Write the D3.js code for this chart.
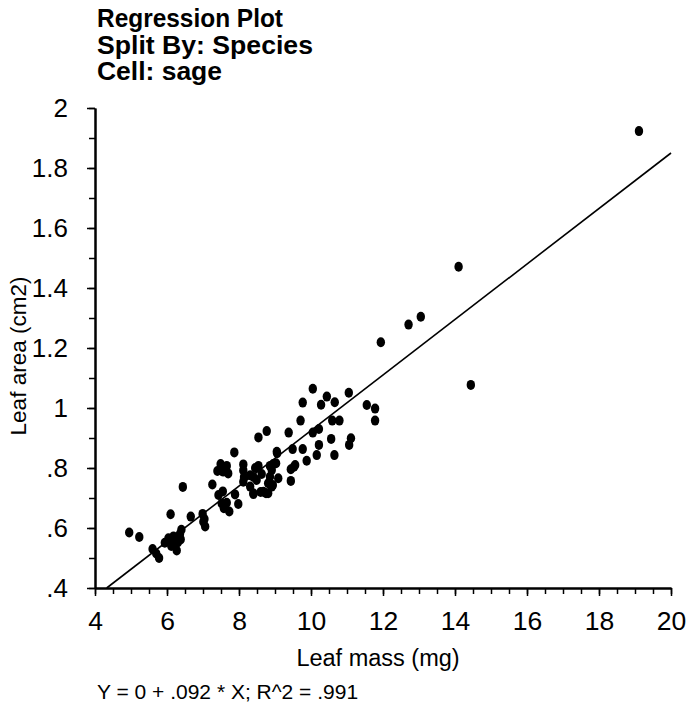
<!DOCTYPE html>
<html>
<head>
<meta charset="utf-8">
<script src="https://cdn.jsdelivr.net/npm/d3@7"></script>
<style>
html,body{margin:0;padding:0;background:#fff;}
svg{display:block;font-family:"Liberation Sans",Arial,Helvetica,sans-serif;}
</style>
</head>
<body>
<svg id="chart" width="689" height="707"></svg>
<script>
const titleLines = ["Regression Plot", "Split By: Species", "Cell: sage"];
const xLabel = "Leaf mass (mg)";
const yLabel = "Leaf area (cm2)";
const equation = "Y = 0 + .092 * X; R^2 = .991";
const xTicks = [4, 6, 8, 10, 12, 14, 16, 18, 20];
const yTicks = [0.4, 0.6, 0.8, 1.0, 1.2, 1.4, 1.6, 1.8, 2.0];
const yTickLabels = [".4", ".6", ".8", "1", "1.2", "1.4", "1.6", "1.8", "2"];
const regIntercept = 0;
const regSlope = 0.0925;

const leafMass = [4.95,5.23,5.60,5.70,5.78,5.94,6.04,6.10,6.12,6.18,6.20,6.27,6.30,6.36,6.40,6.38,6.44,6.66,6.99,7.01,7.06,7.04,
  7.26,7.40,7.49,7.66,7.56,7.70,7.55,7.43,7.52,7.73,7.58,7.66,7.89,7.98,7.87,8.12,8.12,8.14,8.12,8.31,8.31,8.40,8.40,8.45,
  8.54,8.77,8.63,8.60,8.75,8.81,8.86,8.86,8.91,8.91,8.95,9.03,9.06,9.09,8.94,9.38,9.44,9.44,9.49,9.53,9.56,9.71,9.77,9.77,
  9.88,10.05,10.05,10.16,10.22,10.22,10.28,10.44,10.56,10.59,10.65,10.66,10.79,11.05,11.06,11.11,11.55,11.78,11.78,11.94,
  12.71,13.05,14.10,14.44,19.11,8.54,8.49,8.68,8.81,8.40,9.05];
const leafArea = [0.585,0.570,0.530,0.515,0.500,0.551,0.566,0.646,0.540,0.572,0.556,0.525,0.552,0.580,0.594,0.562,0.737,0.638,0.647,0.621,0.605,0.630,
  0.745,0.790,0.813,0.807,0.788,0.782,0.722,0.710,0.682,0.655,0.666,0.684,0.712,0.680,0.852,0.812,0.792,0.770,0.754,0.776,0.738,0.713,0.770,0.800,
  0.902,0.923,0.780,0.720,0.716,0.749,0.771,0.807,0.738,0.793,0.813,0.816,0.849,0.766,0.743,0.918,0.757,0.796,0.863,0.804,0.810,0.958,1.018,0.863,
  0.824,1.064,0.918,0.843,0.930,0.877,1.011,1.038,0.897,0.958,0.843,1.019,0.958,1.051,0.877,0.899,1.010,0.998,0.958,1.219,
  1.278,1.304,1.471,1.077,1.923,0.807,0.760,0.721,0.716,0.716,0.854];

(function () {
const svg = d3.select("#chart");
const mLeft = 95, mRight = 671, mTop = 108, mBottom = 588;
const x = d3.scaleLinear().domain([4, 20]).range([mLeft, mRight]);
const y = d3.scaleLinear().domain([0.4, 2.0]).range([mBottom, mTop]);
const titleWidths = [186, 216, 125];

// title
svg.append("g").selectAll("text").data(titleLines).join("text")
  .attr("x", 97).attr("y", (d, i) => 27 + i * 26.5)
  .attr("font-size", 25).attr("font-weight", "bold").attr("fill", "#000")
  .attr("textLength", (d, i) => titleWidths[i]).attr("lengthAdjust", "spacingAndGlyphs")
  .text(d => d);

// axes
const xMinor = d3.range(4, 20.001, 0.5);
const yMinor = d3.range(0.4, 2.0001, 0.1);
const gx = svg.append("g").attr("transform", `translate(0,${mBottom})`);
gx.call(d3.axisBottom(x).tickValues(xMinor).tickSize(6).tickFormat("").tickSizeOuter(0));
gx.append("g").call(d3.axisBottom(x).tickValues(xTicks).tickSize(8).tickSizeOuter(0).tickPadding(10));
gx.selectAll("path").attr("stroke", "#000").attr("stroke-width", 2);
gx.selectAll("line").attr("stroke", "#000").attr("stroke-width", 1.5);
gx.selectAll("text").attr("font-size", 26.5).attr("fill", "#000").attr("dy", "0.92em").attr("font-family", "Liberation Sans, Arial, sans-serif");

const gy = svg.append("g").attr("transform", `translate(${mLeft},0)`);
gy.call(d3.axisLeft(y).tickValues(yMinor).tickSize(6).tickFormat("").tickSizeOuter(0));
gy.append("g").call(d3.axisLeft(y).tickValues(yTicks).tickSize(8).tickSizeOuter(0).tickPadding(19)
  .tickFormat((d, i) => yTickLabels[i]));
gy.selectAll("path").attr("stroke", "#000").attr("stroke-width", 2);
gy.selectAll("line").attr("stroke", "#000").attr("stroke-width", 1.5);
gy.selectAll("text").attr("font-size", 26).attr("fill", "#000").attr("font-family", "Liberation Sans, Arial, sans-serif");

// axis labels
svg.append("text").attr("x", 378).attr("y", 666)
  .attr("text-anchor", "middle").attr("font-size", 23.5).attr("fill", "#000").text(xLabel);
svg.append("text").attr("transform", `translate(26,${(mTop + mBottom) / 2 + 8}) rotate(-90)`)
  .attr("text-anchor", "middle").attr("font-size", 22.5).attr("fill", "#000").text(yLabel);
svg.append("text").attr("x", 97).attr("y", 699)
  .attr("font-size", 21).attr("fill", "#000").text(equation);

// regression line
const xStart = (0.4 - regIntercept) / regSlope;
svg.append("line")
  .attr("x1", x(xStart)).attr("y1", y(regIntercept + regSlope * xStart))
  .attr("x2", x(20)).attr("y2", y(regIntercept + regSlope * 20))
  .attr("stroke", "#000").attr("stroke-width", 1.6);

// points
const pts = leafMass.map((m, i) => ({m, a: leafArea[i]}));
svg.append("g").selectAll("ellipse").data(pts).join("ellipse")
  .attr("cx", d => x(d.m)).attr("cy", d => y(d.a))
  .attr("rx", 4.2).attr("ry", 5).attr("fill", "#000");
})();
</script>
</body>
</html>
